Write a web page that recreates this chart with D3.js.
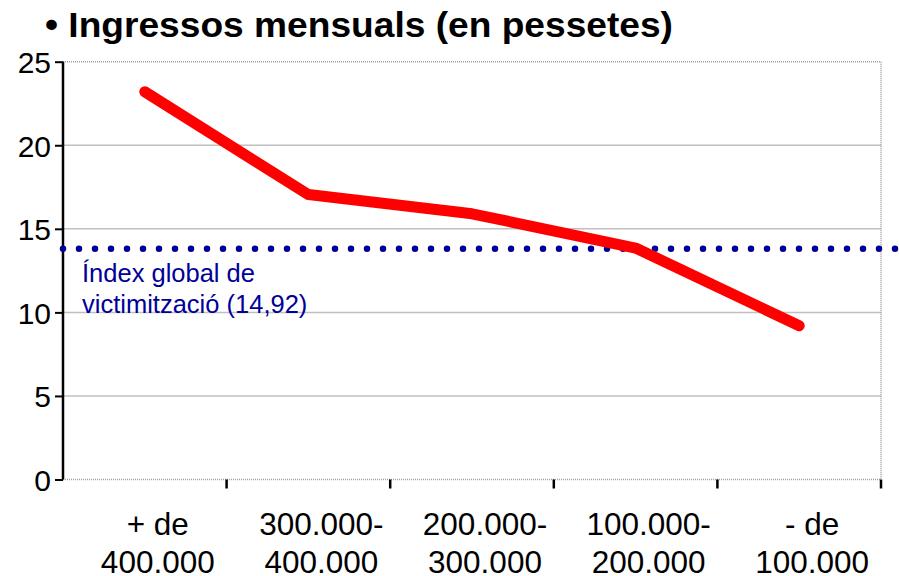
<!DOCTYPE html>
<html><head><meta charset="utf-8">
<script src="https://cdn.jsdelivr.net/npm/d3@7"></script>
<style>body{margin:0;background:#fff}svg{display:block;font-family:"Liberation Sans",Arial,sans-serif}</style>
</head><body><div id="c"></div>
<script>
const categories = [["+ de","400.000"],["300.000-","400.000"],["200.000-","300.000"],["100.000-","200.000"],["- de","100.000"]];
const values = [23.2, 17.05, 15.9, 13.85, 9.2];
const yTicks = [0,5,10,15,20,25];
const globalIndex = 13.8;
const globalLabel = ["Índex global de","victimització (14,92)"];
const title = "• Ingressos mensuals (en pessetes)";

const W=899,H=576, L=63,R=881,T=61.7,B=479.5;
const svg=d3.select("#c").append("svg").attr("width",W).attr("height",H);
const x=d3.scaleBand().domain(d3.range(categories.length)).range([L,R]);
const y=d3.scaleLinear().domain([0,25]).range([B,T]);

svg.append("text").attr("x",45).attr("y",37).attr("font-size",35).attr("font-weight","bold")
 .attr("textLength",628).attr("lengthAdjust","spacingAndGlyphs").text(title);

// gridlines
svg.append("g").selectAll("line").data(yTicks.filter(d=>d>0&&d<25)).join("line")
 .attr("x1",L).attr("x2",R).attr("y1",d=>y(d)).attr("y2",d=>y(d)).attr("stroke","#c0c0c0").attr("stroke-width",1.5);
// border top/right/bottom dotted gray
[[L,y(25),R,y(25)],[R,y(25),R,y(0)],[L,y(0),R,y(0)]].forEach(a=>{
 svg.append("line").attr("x1",a[0]).attr("y1",a[1]).attr("x2",a[2]).attr("y2",a[3]).attr("stroke","#a0a0a0").attr("stroke-width",1.5).attr("stroke-dasharray","1,1");
});

// y axis
const ya=svg.append("g").attr("transform",`translate(${L},0)`).call(d3.axisLeft(y).tickValues(yTicks).tickSize(8).tickPadding(4));
ya.select(".domain").attr("stroke","#000").attr("stroke-width",2.5).attr("d",`M0,${y(25)}H0V${y(0)}`);
ya.selectAll(".tick line").attr("stroke","#000").attr("stroke-width",2);
ya.selectAll("text").attr("font-size",30).attr("font-family","Liberation Sans, Arial, sans-serif").attr("fill","#000").attr("dy","0.36em");

// x ticks at band boundaries
const bounds=d3.range(categories.length+1).map(i=>L+i*x.step());
svg.append("g").selectAll("line").data(bounds.slice(1)).join("line")
 .attr("x1",d=>d).attr("x2",d=>d).attr("y1",B).attr("y2",B+9).attr("stroke","#000").attr("stroke-width",2.5);

// x labels
const xl=svg.append("g").selectAll("text").data(categories).join("text")
 .attr("text-anchor","middle").attr("font-size",31.5)
 .attr("transform",(d,i)=>`translate(${x(i)+x.bandwidth()/2+13},0)`);
xl.selectAll("tspan").data(d=>d).join("tspan").attr("x",0).attr("y",(d,j)=>534.5+j*38.5).text(d=>d);

// global index dotted line
svg.append("line").attr("x1",L).attr("x2",W).attr("y1",y(globalIndex)).attr("y2",y(globalIndex))
 .attr("stroke","#000099").attr("stroke-width",6.5).attr("stroke-linecap","round").attr("stroke-dasharray","0,16");
svg.append("g").selectAll("text").data(globalLabel).join("text")
 .attr("x",82).attr("y",(d,i)=>282+i*31).attr("font-size",25.5).attr("fill","#000099").text(d=>d);

// red line
svg.append("path").datum(values).attr("fill","none").attr("stroke","#ff0000").attr("stroke-width",11)
 .attr("stroke-linecap","round").attr("stroke-linejoin","round")
 .attr("d",d3.line().x((d,i)=>x(i)+x.bandwidth()/2).y(d=>y(d)));
</script></body></html>
